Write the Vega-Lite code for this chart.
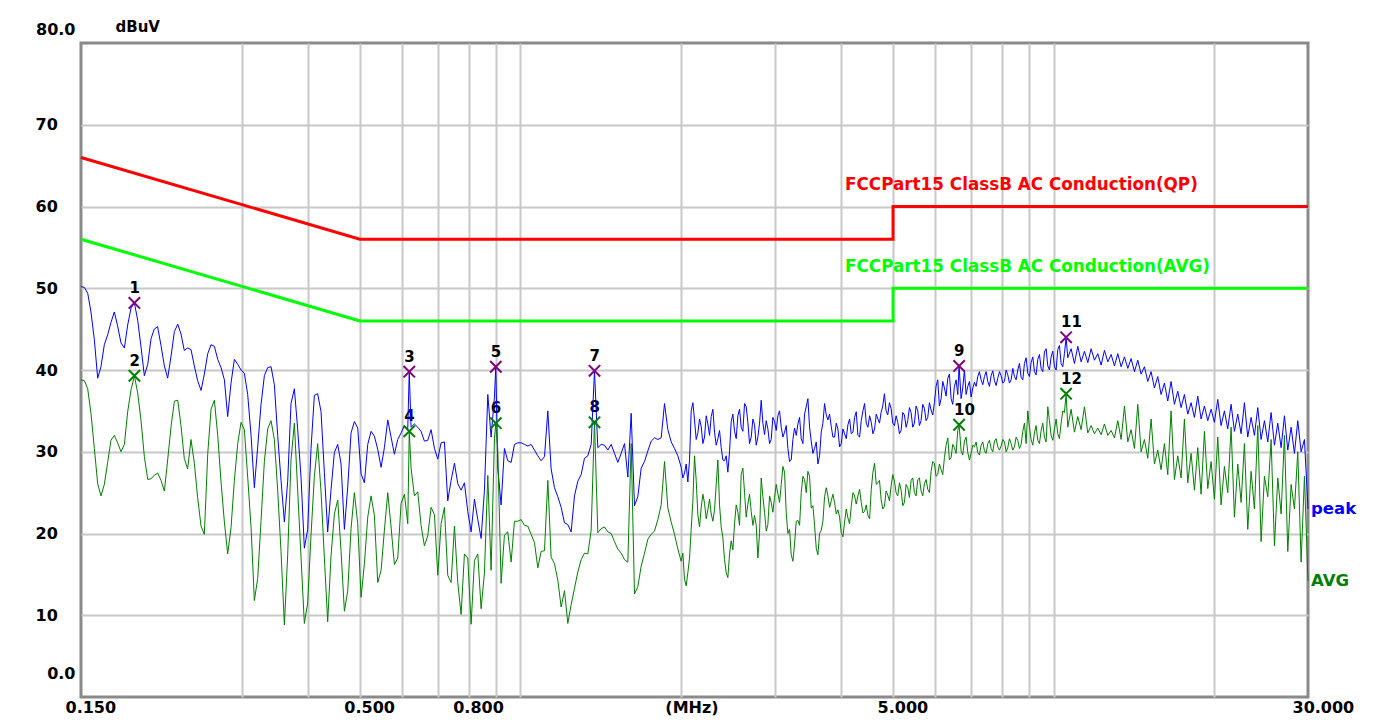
{
"$schema":"https://vega.github.io/schema/vega-lite/v6.json",
"width":1227,"height":654,
"autosize":{"type":"none"},
"padding":{"left":81,"top":43,"right":79,"bottom":25},
"background":"white",
"config":{"view":{"stroke":"#8a8a8a","strokeWidth":3},"font":"DejaVu Sans"},
"datasets":{
"lim":[{"f":0.15,"v":66,"g":"qp","i":0},{"f":0.5,"v":56,"g":"qp","i":1},{"f":5,"v":56,"g":"qp","i":2},{"f":5,"v":60,"g":"qp","i":3},{"f":30,"v":60,"g":"qp","i":4},
{"f":0.15,"v":56,"g":"avl","i":0},{"f":0.5,"v":46,"g":"avl","i":1},{"f":5,"v":46,"g":"avl","i":2},{"f":5,"v":50,"g":"avl","i":3},{"f":30,"v":50,"g":"avl","i":4}],
"ll":[{"f":4.064,"v":62.6,"t":"FCCPart15 ClassB AC Conduction(QP)","g":"qp"},{"f":4.064,"v":52.6,"t":"FCCPart15 ClassB AC Conduction(AVG)","g":"avl"}],
"el":[{"f":30,"v":23.0,"t":"peak","g":"p"},{"f":30,"v":14.2,"t":"AVG","g":"a"}],
"mk":[{"n":"1","f":0.1889,"v":48.2,"g":"pkm"},{"n":"2","f":0.1889,"v":39.3,"g":"avm"},{"n":"3","f":0.619,"v":39.8,"g":"pkm"},{"n":"4","f":0.619,"v":32.5,"g":"avm"},{"n":"5","f":0.8995,"v":40.4,"g":"pkm"},{"n":"6","f":0.8995,"v":33.5,"g":"avm"},{"n":"7","f":1.3774,"v":39.9,"g":"pkm"},{"n":"8","f":1.3774,"v":33.6,"g":"avm"},{"n":"9","f":6.65,"v":40.5,"g":"pkm"},{"n":"10","f":6.65,"v":33.3,"g":"avm"},{"n":"11","f":10.556,"v":44.0,"g":"pkm"},{"n":"12","f":10.556,"v":37.1,"g":"avm"}],
"tr":[
{"f":0.1500,"p":50.2,"a":38.8},{"f":0.1522,"p":50.1,"a":38.7},{"f":0.1544,"p":49.4,"a":37.7},{"f":0.1566,"p":47.1,"a":34.7},{"f":0.1589,"p":43.7,"a":30.4},{"f":0.1612,"p":39.0,"a":26.1},{"f":0.1635,"p":40.4,"a":24.6},{"f":0.1659,"p":43.1,"a":26.0},{"f":0.1683,"p":44.3,"a":28.7},{"f":0.1707,"p":45.8,"a":31.4},
{"f":0.1732,"p":47.1,"a":32.0},{"f":0.1757,"p":45.4,"a":31.1},{"f":0.1783,"p":43.3,"a":30.0},{"f":0.1809,"p":42.7,"a":30.9},{"f":0.1835,"p":45.5,"a":34.9},{"f":0.1862,"p":47.6,"a":37.6},{"f":0.1889,"p":48.2,"a":39.3},{"f":0.1916,"p":46.1,"a":37.2},{"f":0.1944,"p":42.8,"a":33.8},{"f":0.1972,"p":39.3,"a":29.4},
{"f":0.2001,"p":40.7,"a":26.6},{"f":0.2029,"p":43.8,"a":26.7},{"f":0.2058,"p":45.0,"a":27.1},{"f":0.2088,"p":45.3,"a":27.4},{"f":0.2119,"p":43.0,"a":26.5},{"f":0.2150,"p":40.5,"a":25.2},{"f":0.2181,"p":39.0,"a":29.0},{"f":0.2213,"p":41.7,"a":33.1},{"f":0.2245,"p":44.7,"a":36.2},{"f":0.2278,"p":45.6,"a":36.3},
{"f":0.2310,"p":44.4,"a":33.2},{"f":0.2343,"p":42.4,"a":29.2},{"f":0.2377,"p":42.7,"a":27.9},{"f":0.2412,"p":42.5,"a":31.5},{"f":0.2447,"p":40.5,"a":28.6},{"f":0.2482,"p":38.7,"a":24.4},{"f":0.2519,"p":37.5,"a":20.9},{"f":0.2555,"p":39.5,"a":19.9},{"f":0.2593,"p":42.0,"a":29.8},{"f":0.2630,"p":43.1,"a":35.2},
{"f":0.2668,"p":42.9,"a":36.3},{"f":0.2707,"p":41.3,"a":32.0},{"f":0.2746,"p":40.3,"a":26.3},{"f":0.2786,"p":38.8,"a":21.4},{"f":0.2826,"p":34.3,"a":17.5},{"f":0.2867,"p":38.4,"a":20.7},{"f":0.2909,"p":41.3,"a":26.5},{"f":0.2951,"p":40.7,"a":31.0},{"f":0.2994,"p":40.0,"a":33.6},{"f":0.3037,"p":39.6,"a":32.7},
{"f":0.3081,"p":37.0,"a":26.9},{"f":0.3126,"p":32.0,"a":20.8},{"f":0.3171,"p":25.6,"a":11.8},{"f":0.3217,"p":30.6,"a":14.5},{"f":0.3264,"p":35.8,"a":21.6},{"f":0.3311,"p":39.3,"a":28.8},{"f":0.3359,"p":40.3,"a":32.8},{"f":0.3408,"p":40.4,"a":33.8},{"f":0.3457,"p":38.2,"a":31.5},{"f":0.3507,"p":32.0,"a":25.3},
{"f":0.3558,"p":26.5,"a":17.8},{"f":0.3610,"p":21.4,"a":8.8},{"f":0.3662,"p":26.4,"a":17.4},{"f":0.3715,"p":35.9,"a":29.0},{"f":0.3769,"p":37.7,"a":33.5},{"f":0.3823,"p":32.8,"a":25.3},{"f":0.3879,"p":26.9,"a":17.1},{"f":0.3935,"p":18.2,"a":9.0},{"f":0.3992,"p":20.5,"a":11.5},{"f":0.4050,"p":30.4,"a":19.8},
{"f":0.4109,"p":36.9,"a":27.0},{"f":0.4168,"p":37.1,"a":31.0},{"f":0.4229,"p":34.9,"a":25.1},{"f":0.4290,"p":27.5,"a":17.1},{"f":0.4352,"p":20.2,"a":9.2},{"f":0.4416,"p":25.4,"a":17.3},{"f":0.4480,"p":29.9,"a":22.4},{"f":0.4545,"p":30.9,"a":24.1},{"f":0.4611,"p":28.5,"a":17.8},{"f":0.4678,"p":20.5,"a":10.5},
{"f":0.4746,"p":25.7,"a":13.0},{"f":0.4814,"p":32.3,"a":20.6},{"f":0.4884,"p":33.7,"a":25.0},{"f":0.4955,"p":32.9,"a":21.2},{"f":0.5027,"p":27.3,"a":12.2},{"f":0.5100,"p":26.2,"a":16.3},{"f":0.5174,"p":30.9,"a":22.0},{"f":0.5249,"p":32.5,"a":24.6},{"f":0.5325,"p":31.9,"a":22.2},{"f":0.5402,"p":30.3,"a":14.0},
{"f":0.5481,"p":28.1,"a":15.5},{"f":0.5560,"p":30.5,"a":20.4},{"f":0.5641,"p":33.9,"a":25.0},{"f":0.5722,"p":31.8,"a":20.8},{"f":0.5805,"p":29.7,"a":16.2},{"f":0.5890,"p":31.5,"a":17.0},{"f":0.5975,"p":32.3,"a":23.7},{"f":0.6062,"p":33.2,"a":24.8},{"f":0.6150,"p":32.8,"a":21.2},{"f":0.6190,"p":39.8,"a":32.5},
{"f":0.6239,"p":33.0,"a":28.0},{"f":0.6329,"p":33.4,"a":24.6},{"f":0.6421,"p":33.0,"a":25.1},{"f":0.6514,"p":32.5,"a":21.0},{"f":0.6608,"p":31.3,"a":18.5},{"f":0.6704,"p":31.4,"a":19.7},{"f":0.6802,"p":32.7,"a":23.2},{"f":0.6901,"p":30.4,"a":22.3},{"f":0.7001,"p":29.1,"a":14.9},{"f":0.7102,"p":31.1,"a":21.2},
{"f":0.7205,"p":31.2,"a":23.2},{"f":0.7309,"p":24.0,"a":14.9},{"f":0.7416,"p":26.5,"a":14.0},{"f":0.7524,"p":28.6,"a":20.9},{"f":0.7632,"p":26.1,"a":14.0},{"f":0.7743,"p":25.3,"a":10.1},{"f":0.7855,"p":26.2,"a":17.5},{"f":0.7969,"p":22.7,"a":17.0},{"f":0.8085,"p":20.2,"a":8.9},{"f":0.8202,"p":24.2,"a":16.7},
{"f":0.8321,"p":21.7,"a":17.5},{"f":0.8442,"p":19.4,"a":10.8},{"f":0.8564,"p":25.3,"a":15.2},{"f":0.8689,"p":37.0,"a":27.1},{"f":0.8814,"p":31.8,"a":15.5},{"f":0.8942,"p":36.7,"a":31.6},{"f":0.8995,"p":40.4,"a":33.5},{"f":0.9072,"p":28.0,"a":30.2},{"f":0.9203,"p":23.5,"a":13.9},{"f":0.9336,"p":30.4,"a":19.8},
{"f":0.9472,"p":28.9,"a":20.2},{"f":0.9610,"p":28.7,"a":16.5},{"f":0.9749,"p":30.9,"a":21.5},{"f":0.9891,"p":31.1,"a":21.5},{"f":1.0034,"p":31.1,"a":21.7},{"f":1.0179,"p":30.9,"a":21.0},{"f":1.0327,"p":30.7,"a":20.9},{"f":1.0477,"p":30.9,"a":19.9},{"f":1.0629,"p":30.2,"a":18.9},{"f":1.0783,"p":29.5,"a":15.8},
{"f":1.0940,"p":28.9,"a":17.8},{"f":1.1099,"p":29.4,"a":17.9},{"f":1.1260,"p":35.0,"a":26.5},{"f":1.1422,"p":27.9,"a":17.1},{"f":1.1588,"p":25.6,"a":16.3},{"f":1.1756,"p":24.5,"a":14.3},{"f":1.1927,"p":23.2,"a":11.0},{"f":1.2100,"p":21.3,"a":13.0},{"f":1.2275,"p":21.1,"a":9.0},{"f":1.2453,"p":20.2,"a":11.3},
{"f":1.2634,"p":24.6,"a":13.3},{"f":1.2817,"p":26.4,"a":15.3},{"f":1.3003,"p":27.2,"a":16.8},{"f":1.3192,"p":29.2,"a":17.6},{"f":1.3383,"p":29.5,"a":17.5},{"f":1.3577,"p":30.9,"a":20.4},{"f":1.3774,"p":39.9,"a":33.6},{"f":1.3973,"p":30.5,"a":20.1},{"f":1.4176,"p":30.9,"a":20.6},{"f":1.4382,"p":30.8,"a":20.8},
{"f":1.4590,"p":30.2,"a":20.2},{"f":1.4802,"p":30.9,"a":20.0},{"f":1.5017,"p":29.8,"a":19.0},{"f":1.5234,"p":28.7,"a":18.1},{"f":1.5456,"p":29.8,"a":17.6},{"f":1.5680,"p":31.0,"a":16.8},{"f":1.5907,"p":26.9,"a":16.5},{"f":1.6137,"p":34.7,"a":31.0},{"f":1.6371,"p":23.4,"a":12.6},{"f":1.6608,"p":24.5,"a":13.5},
{"f":1.6850,"p":28.0,"a":16.0},{"f":1.7094,"p":28.8,"a":17.6},{"f":1.7342,"p":30.1,"a":19.3},{"f":1.7594,"p":31.3,"a":19.9},{"f":1.7849,"p":31.7,"a":20.3},{"f":1.8108,"p":31.5,"a":21.7},{"f":1.8371,"p":31.7,"a":23.5},{"f":1.8637,"p":35.9,"a":28.8},{"f":1.8908,"p":32.7,"a":23.1},{"f":1.9182,"p":31.2,"a":21.4},
{"f":1.9460,"p":30.4,"a":19.9},{"f":1.9742,"p":29.5,"a":18.1},{"f":2.0028,"p":28.1,"a":16.6},{"f":2.0318,"p":27.4,"a":14.4},{"f":2.0613,"p":26.3,"a":15.2},{"f":2.0912,"p":35.0,"a":20.5},{"f":2.1215,"p":33.9,"a":29.5},{"f":2.1523,"p":32.3,"a":22.3},{"f":2.1836,"p":33.1,"a":23.2},{"f":2.2153,"p":31.8,"a":23.7},
{"f":2.2474,"p":33.4,"a":22.9},{"f":2.2799,"p":34.3,"a":22.4},{"f":2.3130,"p":32.4,"a":22.9},{"f":2.3465,"p":31.6,"a":29.0},{"f":2.3805,"p":30.5,"a":20.8},{"f":2.4150,"p":28.9,"a":16.8},{"f":2.4500,"p":27.5,"a":14.6},{"f":2.4857,"p":33.7,"a":19.1},{"f":2.5217,"p":32.5,"a":21.2},{"f":2.5583,"p":34.4,"a":22.6},
{"f":2.5953,"p":33.0,"a":27.2},{"f":2.6329,"p":35.9,"a":25.0},{"f":2.6711,"p":33.6,"a":23.6},{"f":2.7099,"p":31.8,"a":22.7},{"f":2.7492,"p":33.3,"a":22.2},{"f":2.7891,"p":31.8,"a":17.0},{"f":2.8296,"p":36.3,"a":26.8},{"f":2.8706,"p":32.1,"a":22.6},{"f":2.9122,"p":32.8,"a":21.1},{"f":2.9544,"p":31.5,"a":23.8},
{"f":2.9972,"p":33.7,"a":24.4},{"f":3.0407,"p":34.4,"a":24.9},{"f":3.0849,"p":33.0,"a":26.0},{"f":3.1297,"p":32.4,"a":27.5},{"f":3.1751,"p":30.4,"a":20.0},{"f":3.2211,"p":29.0,"a":17.4},{"f":3.2678,"p":32.9,"a":18.7},{"f":3.3152,"p":33.4,"a":21.6},{"f":3.3633,"p":31.6,"a":25.0},{"f":3.4121,"p":34.6,"a":26.6},
{"f":3.4615,"p":36.5,"a":27.6},{"f":3.5117,"p":31.3,"a":23.1},{"f":3.5626,"p":30.4,"a":21.0},{"f":3.6143,"p":28.5,"a":17.4},{"f":3.6668,"p":32.4,"a":20.4},{"f":3.7200,"p":35.9,"a":24.5},{"f":3.7739,"p":33.9,"a":24.6},{"f":3.8286,"p":33.1,"a":24.0},{"f":3.8841,"p":31.8,"a":23.8},{"f":3.9404,"p":32.8,"a":22.9},
{"f":3.9977,"p":31.0,"a":20.1},{"f":4.0557,"p":32.2,"a":21.4},{"f":4.1145,"p":33.3,"a":21.9},{"f":4.1741,"p":32.2,"a":23.3},{"f":4.2346,"p":34.2,"a":24.6},{"f":4.2960,"p":32.0,"a":24.6},{"f":4.3584,"p":33.8,"a":23.8},{"f":4.4216,"p":35.9,"a":22.7},{"f":4.4857,"p":33.0,"a":22.2},{"f":4.5507,"p":33.6,"a":25.4},
{"f":4.6167,"p":32.8,"a":28.6},{"f":4.6836,"p":34.0,"a":26.2},{"f":4.748,"p":34.8,"a":24.2},{"f":4.817,"p":37.1,"a":23.3},{"f":4.887,"p":34.5,"a":24.7},{"f":4.958,"p":35.3,"a":25.8},{"f":5.030,"p":33.2,"a":26.4},{"f":5.103,"p":33.6,"a":24.6},{"f":5.177,"p":32.6,"a":25.3},{"f":5.252,"p":34.5,"a":23.8},
{"f":5.328,"p":33.8,"a":25.6},{"f":5.405,"p":34.8,"a":26.5},{"f":5.483,"p":33.5,"a":25.0},{"f":5.563,"p":35.0,"a":26.6},{"f":5.643,"p":33.8,"a":25.2},{"f":5.725,"p":35.3,"a":26.1},{"f":5.808,"p":34.2,"a":25.4},{"f":5.892,"p":35.1,"a":27.6},{"f":5.977,"p":36.0,"a":28.6},{"f":6.064,"p":38.8,"a":27.2},
{"f":6.153,"p":36.5,"a":27.8},{"f":6.242,"p":37.8,"a":29.3},{"f":6.333,"p":39.0,"a":31.7},{"f":6.424,"p":36.5,"a":29.3},{"f":6.517,"p":38.0,"a":30.5},{"f":6.612,"p":37.0,"a":32.6},{"f":6.650,"p":40.5,"a":33.3},{"f":6.708,"p":36.5,"a":30.1},{"f":6.805,"p":40.0,"a":31.3},{"f":6.904,"p":38.0,"a":29.9},
{"f":7.004,"p":36.7,"a":29.8},{"f":7.106,"p":38.5,"a":30.6},{"f":7.208,"p":39.2,"a":29.9},{"f":7.313,"p":38.8,"a":30.8},{"f":7.419,"p":39.2,"a":30.1},{"f":7.527,"p":38.6,"a":31.0},{"f":7.636,"p":39.3,"a":30.4},{"f":7.747,"p":38.7,"a":31.3},{"f":7.859,"p":39.0,"a":30.6},{"f":7.973,"p":39.3,"a":30.7},
{"f":8.089,"p":38.6,"a":31.2},{"f":8.206,"p":39.4,"a":30.5},{"f":8.325,"p":38.8,"a":31.0},{"f":8.446,"p":39.2,"a":30.6},{"f":8.568,"p":40.0,"a":31.4},{"f":8.692,"p":39.1,"a":30.9},{"f":8.818,"p":40.8,"a":33.5},{"f":8.946,"p":39.6,"a":35.0},{"f":9.075,"p":40.9,"a":31.5},{"f":9.207,"p":39.8,"a":32.3},
{"f":9.340,"p":41.3,"a":31.4},{"f":9.476,"p":40.2,"a":32.6},{"f":9.613,"p":42.2,"a":31.8},{"f":9.753,"p":40.5,"a":35.5},{"f":9.894,"p":41.6,"a":32.0},{"f":10.038,"p":40.4,"a":32.8},{"f":10.183,"p":42.5,"a":32.2},{"f":10.330,"p":40.8,"a":33.5},{"f":10.480,"p":42.0,"a":34.8},{"f":10.556,"p":44.0,"a":37.1},
{"f":10.632,"p":41.5,"a":33.0},{"f":10.787,"p":42.6,"a":35.2},{"f":10.943,"p":40.8,"a":32.4},{"f":11.102,"p":42.9,"a":34.3},{"f":11.263,"p":41.0,"a":32.7},{"f":11.426,"p":42.3,"a":35.5},{"f":11.592,"p":40.9,"a":32.3},{"f":11.760,"p":42.6,"a":33.2},{"f":11.930,"p":41.2,"a":32.2},{"f":12.103,"p":42.0,"a":32.9},
{"f":12.279,"p":40.6,"a":32.1},{"f":12.457,"p":42.4,"a":33.4},{"f":12.638,"p":41.0,"a":32.0},{"f":12.821,"p":41.9,"a":32.6},{"f":13.007,"p":40.5,"a":31.7},{"f":13.196,"p":42.0,"a":33.8},{"f":13.387,"p":40.4,"a":31.5},{"f":13.581,"p":41.6,"a":35.6},{"f":13.778,"p":40.2,"a":31.2},{"f":13.977,"p":41.4,"a":32.7},
{"f":14.180,"p":39.8,"a":30.4},{"f":14.385,"p":41.2,"a":35.8},{"f":14.592,"p":39.5,"a":30.0},{"f":14.804,"p":40.4,"a":31.5},{"f":15.018,"p":38.6,"a":29.2},{"f":15.236,"p":39.8,"a":34.0},{"f":15.457,"p":37.8,"a":28.5},{"f":15.681,"p":39.2,"a":30.2},{"f":15.908,"p":37.0,"a":27.8},{"f":16.139,"p":38.4,"a":31.0},
{"f":16.373,"p":36.2,"a":27.2},{"f":16.610,"p":38.6,"a":35.0},{"f":16.851,"p":35.8,"a":26.6},{"f":17.095,"p":37.4,"a":29.5},{"f":17.343,"p":35.4,"a":26.8},{"f":17.594,"p":37.0,"a":34.0},{"f":17.849,"p":34.6,"a":26.2},{"f":18.108,"p":36.0,"a":29.8},{"f":18.371,"p":34.2,"a":25.3},{"f":18.637,"p":36.8,"a":30.5},
{"f":18.908,"p":34.0,"a":24.8},{"f":19.182,"p":35.6,"a":32.5},{"f":19.460,"p":33.8,"a":25.5},{"f":19.742,"p":35.2,"a":28.8},{"f":20.028,"p":33.6,"a":24.2},{"f":20.318,"p":36.4,"a":31.8},{"f":20.613,"p":33.2,"a":23.5},{"f":20.912,"p":35.0,"a":28.2},{"f":21.215,"p":32.8,"a":25.0},{"f":21.523,"p":35.8,"a":33.0},
{"f":21.835,"p":32.5,"a":22.0},{"f":22.151,"p":34.6,"a":28.5},{"f":22.473,"p":32.2,"a":23.8},{"f":22.799,"p":36.0,"a":31.0},{"f":23.129,"p":31.8,"a":20.5},{"f":23.465,"p":34.2,"a":27.6},{"f":23.805,"p":32.0,"a":23.0},{"f":24.150,"p":35.4,"a":33.2},{"f":24.501,"p":31.5,"a":19.0},{"f":24.856,"p":33.8,"a":27.0},
{"f":25.217,"p":31.2,"a":24.5},{"f":25.582,"p":34.8,"a":31.5},{"f":25.953,"p":30.8,"a":18.5},{"f":26.329,"p":33.5,"a":26.8},{"f":26.712,"p":30.5,"a":22.4},{"f":27.099,"p":34.4,"a":32.0},{"f":27.492,"p":30.2,"a":17.8},{"f":27.890,"p":33.0,"a":26.0},{"f":28.294,"p":29.8,"a":23.0},{"f":28.705,"p":33.8,"a":30.0},
{"f":29.121,"p":30.0,"a":16.5},{"f":29.543,"p":31.5,"a":27.0},{"f":30.0,"p":23.0,"a":14.2},
{"f":2.0173,"p":26.8,"a":17.6},{"f":2.0466,"p":28.5,"a":13.6},{"f":2.0763,"p":29.0,"a":17.0},{"f":2.1064,"p":36.0,"a":24.0},{"f":2.1369,"p":31.5,"a":26.5},{"f":2.1680,"p":34.0,"a":20.8},{"f":2.1995,"p":31.0,"a":24.8},{"f":2.2314,"p":34.4,"a":21.8},{"f":2.2637,"p":32.0,"a":24.2},{"f":2.2965,"p":35.2,"a":21.5},
{"f":2.3298,"p":30.8,"a":26.0},{"f":2.3635,"p":32.6,"a":23.5},{"f":2.3978,"p":29.0,"a":19.5},{"f":2.4325,"p":29.5,"a":15.2},{"f":2.4679,"p":30.0,"a":17.5},{"f":2.5037,"p":34.6,"a":18.0},{"f":2.5400,"p":31.6,"a":23.5},{"f":2.5768,"p":35.2,"a":21.0},{"f":2.6141,"p":32.5,"a":28.0},{"f":2.6520,"p":35.5,"a":22.0},
{"f":2.6905,"p":31.0,"a":24.8},{"f":2.7296,"p":34.0,"a":21.0},{"f":2.7692,"p":30.8,"a":21.0},{"f":2.8094,"p":33.5,"a":20.0},{"f":2.8501,"p":33.5,"a":24.5},{"f":2.8914,"p":33.8,"a":20.3},{"f":2.9333,"p":31.0,"a":24.6},{"f":2.9758,"p":34.2,"a":22.6},{"f":3.0190,"p":32.6,"a":26.0},{"f":3.0628,"p":35.0,"a":23.8},
{"f":3.1073,"p":31.8,"a":28.2},{"f":3.1524,"p":33.2,"a":22.5},{"f":3.1981,"p":28.8,"a":20.5},{"f":3.2445,"p":31.5,"a":16.6},{"f":3.2915,"p":32.0,"a":21.5},{"f":3.3393,"p":34.2,"a":21.0},{"f":3.3877,"p":31.0,"a":27.0},{"f":3.4368,"p":35.5,"a":25.0},{"f":3.4866,"p":33.0,"a":27.0},{"f":3.5372,"p":29.8,"a":23.4},
{"f":3.5885,"p":31.2,"a":18.2},{"f":3.6406,"p":29.5,"a":20.0},{"f":3.6934,"p":33.5,"a":21.5},{"f":3.7470,"p":34.5,"a":25.6},{"f":3.8013,"p":34.6,"a":23.2},{"f":3.8564,"p":31.8,"a":24.8},{"f":3.9123,"p":33.5,"a":22.4},{"f":3.9691,"p":30.6,"a":22.0},{"f":4.0267,"p":32.8,"a":19.6},{"f":4.0851,"p":31.6,"a":23.0},
{"f":4.1443,"p":34.0,"a":21.2},{"f":4.2044,"p":32.4,"a":25.0},{"f":4.2653,"p":34.9,"a":23.6},{"f":4.3272,"p":31.8,"a":25.4},{"f":4.3900,"p":35.0,"a":22.5},{"f":4.4537,"p":33.5,"a":23.5},{"f":4.5182,"p":34.4,"a":21.8},{"f":4.5837,"p":32.2,"a":27.5},{"f":4.6502,"p":34.6,"a":26.0},{"f":4.7158,"p":33.5,"a":26.5},
{"f":4.7825,"p":35.6,"a":23.0},{"f":4.852,"p":35.0,"a":25.2},{"f":4.9225,"p":36.0,"a":24.0},{"f":4.994,"p":33.5,"a":27.2},{"f":5.066,"p":34.4,"a":25.0},{"f":5.140,"p":32.2,"a":26.2},{"f":5.214,"p":34.8,"a":23.4},{"f":5.290,"p":33.0,"a":26.0},{"f":5.366,"p":35.4,"a":24.4},{"f":5.444,"p":33.0,"a":26.8},
{"f":5.523,"p":35.6,"a":24.6},{"f":5.603,"p":33.2,"a":26.8},{"f":5.684,"p":35.8,"a":24.6},{"f":5.766,"p":33.8,"a":26.6},{"f":5.850,"p":36.0,"a":25.0},{"f":5.934,"p":34.5,"a":28.8},{"f":6.020,"p":38.0,"a":27.0},{"f":6.108,"p":35.6,"a":28.5},{"f":6.197,"p":38.6,"a":27.2},{"f":6.287,"p":36.8,"a":30.8},
{"f":6.378,"p":39.5,"a":29.0},{"f":6.470,"p":35.8,"a":30.9},{"f":6.564,"p":38.8,"a":29.8},{"f":6.756,"p":37.8,"a":29.6},{"f":6.854,"p":37.0,"a":31.8},{"f":6.954,"p":38.6,"a":29.0},{"f":7.055,"p":37.8,"a":30.8},{"f":7.157,"p":38.0,"a":31.2},{"f":7.260,"p":39.8,"a":29.6},{"f":7.366,"p":38.2,"a":31.2},
{"f":7.473,"p":39.8,"a":29.8},{"f":7.581,"p":38.0,"a":31.4},{"f":7.691,"p":39.9,"a":30.0},{"f":7.803,"p":38.1,"a":31.6},{"f":7.916,"p":39.8,"a":30.2},{"f":8.031,"p":38.4,"a":31.5},{"f":8.147,"p":40.0,"a":30.0},{"f":8.265,"p":38.4,"a":31.6},{"f":8.385,"p":40.2,"a":30.2},{"f":8.507,"p":38.8,"a":31.8},
{"f":8.630,"p":40.8,"a":30.4},{"f":8.755,"p":38.8,"a":32.5},{"f":8.882,"p":41.5,"a":31.0},{"f":9.010,"p":39.2,"a":33.0},{"f":9.141,"p":41.6,"a":30.8},{"f":9.273,"p":39.4,"a":33.2},{"f":9.408,"p":41.9,"a":31.0},{"f":9.544,"p":39.8,"a":33.5},{"f":9.683,"p":42.6,"a":31.2},{"f":9.823,"p":40.0,"a":33.8},
{"f":9.966,"p":42.3,"a":31.4},{"f":10.110,"p":40.0,"a":34.0},{"f":10.256,"p":43.0,"a":31.6},{"f":10.405,"p":40.4,"a":35.0}
]},
"encoding":{
"x":{"field":"f","type":"quantitative","scale":{"type":"log","domain":[0.15,30],"nice":false,"zero":false},
"axis":{"values":[0.15,0.3,0.4,0.5,0.6,0.7,0.8,0.9,1,2,3,4,5,6,7,8,9,10,20,30],
"labelExpr":"datum.value == 0.15 ? '0.150' : datum.value == 0.5 ? '0.500' : datum.value == 0.8 ? '0.800' : datum.value == 2 ? '(MHz)' : datum.value == 5 ? '5.000' : datum.value == 30 ? '30.000' : ''",
"ticks":false,"domain":false,"grid":true,"gridColor":"#c8c8c8","gridWidth":2,
"gridOpacity":{"condition":{"test":"datum.value == 0.15 || datum.value == 30","value":0},"value":1},
"labelAlign":"left","labelOffset":-16,"labelBaseline":"middle","labelPadding":10,
"labelFlush":false,"labelOverlap":false,"labelBound":false,
"labelFont":"DejaVu Sans","labelFontWeight":"bold","labelFontSize":16,"labelColor":"#000000","title":null}},
"y":{"field":"v","type":"quantitative","scale":{"domain":[0,80],"nice":false,"zero":false},
"axis":{"values":[0,10,20,30,40,50,60,70,80],
"labelExpr":"datum.value == 80 ? '80.0' : datum.value == 0 ? '0.0' : datum.label",
"ticks":false,"domain":false,"grid":true,"gridColor":"#c8c8c8","gridWidth":2,
"gridOpacity":{"condition":{"test":"datum.value == 0 || datum.value == 80","value":0},"value":1},
"labelAlign":{"condition":{"test":"datum.value == 0 || datum.value == 80","value":"right"},"value":"left"},
"labelPadding":{"condition":{"test":"datum.value == 0 || datum.value == 80","value":6},"value":46},
"labelOffset":{"condition":[{"test":"datum.value == 80","value":-14},{"test":"datum.value == 0","value":-24}],"value":0},
"labelBaseline":"middle","labelFlush":false,"labelOverlap":false,"labelBound":false,
"labelFont":"DejaVu Sans","labelFontWeight":"bold","labelFontSize":16,"labelColor":"#000000",
"title":"dBuV","titleFont":"DejaVu Sans","titleFontWeight":"bold","titleFontSize":15,"titleColor":"#000000",
"titleAngle":0,"titleAlign":"left","titleBaseline":"middle","titleX":34,"titleY":-17}}
},
"layer":[
{"data":{"name":"lim"},"mark":{"type":"line","strokeWidth":3},
"encoding":{"color":{"field":"g","type":"nominal","scale":{"domain":["qp","avl","p","a","pkm","avm"],"range":["#ff0000","#00ff00","#0000ff","#008000","#800080","#008000"]},"legend":null},"order":{"field":"i","type":"quantitative"}}},
{"data":{"name":"ll"},"mark":{"type":"text","align":"left","baseline":"middle","font":"DejaVu Sans","fontWeight":"bold","fontSize":16.8},
"encoding":{"text":{"field":"t"},"color":{"field":"g","type":"nominal","scale":{"domain":["qp","avl","p","a","pkm","avm"],"range":["#ff0000","#00ff00","#0000ff","#008000","#800080","#008000"]},"legend":null}}},
{"data":{"name":"el"},"mark":{"type":"text","align":"left","baseline":"middle","dx":3,"font":"DejaVu Sans","fontWeight":"bold","fontSize":16.5},
"encoding":{"text":{"field":"t"},"color":{"field":"g","type":"nominal","scale":{"domain":["qp","avl","p","a","pkm","avm"],"range":["#ff0000","#00ff00","#0000ff","#008000","#800080","#008000"]},"legend":null}}},
{"data":{"name":"mk"},"mark":{"type":"text","align":"left","baseline":"middle","dx":-5,"dy":-15,"font":"DejaVu Sans","fontWeight":"bold","fontSize":15,"color":"#000000"},
"encoding":{"text":{"field":"n"}}},
{"data":{"name":"tr"},"transform":[{"fold":["p"],"as":["k","v"]}],"mark":{"type":"line","color":"#0000ff","strokeWidth":1}},
{"data":{"name":"tr"},"transform":[{"fold":["a"],"as":["k","v"]}],"mark":{"type":"line","color":"#008000","strokeWidth":1}},
{"data":{"name":"mk"},"mark":{"type":"point","shape":"M-1,-1L1,1M-1,1L1,-1","filled":false,"strokeWidth":2,"size":130,"opacity":1},
"encoding":{"color":{"field":"g","type":"nominal","scale":{"domain":["qp","avl","p","a","pkm","avm"],"range":["#ff0000","#00ff00","#0000ff","#008000","#800080","#008000"]},"legend":null}}}
]
}
